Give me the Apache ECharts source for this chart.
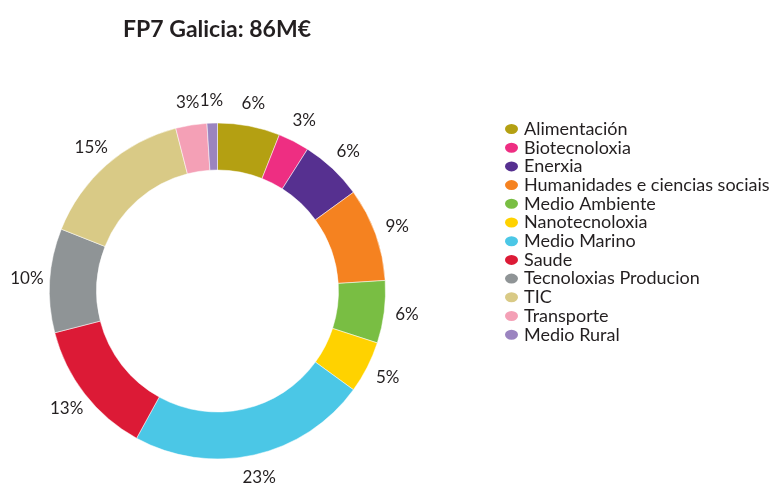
<!DOCTYPE html>
<html><head><meta charset="utf-8">
<script src="https://cdn.jsdelivr.net/npm/echarts@6/dist/echarts.min.js"></script>
<style>html,body{margin:0;padding:0;background:#fff}#c{width:772px;height:483px}</style>
</head><body><div id="c"></div>
<script>
var categories = ["Alimentación","Biotecnoloxia","Enerxia","Humanidades e ciencias sociais","Medio Ambiente","Nanotecnoloxia","Medio Marino","Saude","Tecnoloxias Producion","TIC","Transporte","Medio Rural"];
var values = [6,3,6,9,6,5,23,13,10,15,3,1];
var colors = ["#b4a012","#ee2e82","#563090","#f58220","#79be43","#ffd200","#4bc7e6","#dc1a36","#8f9496","#d9ca86","#f4a0b6","#9b84c0"];
var font = "Lato";
var chart = echarts.init(document.getElementById('c'));
var mainData = categories.map(function(n,i){return {name:n,value:values[i],itemStyle:{color:colors[i]}};});
var labelData = categories.map(function(n,i){return {name:n,value:values[i]};});
chart.setOption({
  animation:false,
  title:{text:"FP7 Galicia: 86M€",left:212,top:13,textAlign:'center',
    textStyle:{fontFamily:font,fontWeight:'bold',fontSize:23,color:'#231f20'}},
  legend:{orient:'vertical',left:498,top:115,itemWidth:15,itemHeight:12,itemGap:0.7,
    icon:'path://M0,6 A7.5,6 0 1,0 15,6 A7.5,6 0 1,0 0,6 Z',
    data:categories,selectedMode:false,
    textStyle:{fontFamily:font,fontSize:18,color:'#231f20'}},
  series:[
    {type:'pie',center:[217.5,291],radius:[121,168],startAngle:90,clockwise:true,silent:true,
     label:{show:false},labelLine:{show:false},
     itemStyle:{borderColor:'#fff',borderWidth:0.5},data:mainData},
    {type:'pie',center:[217.5,291],radius:[180,196],startAngle:90,clockwise:true,silent:true,
     itemStyle:{color:'transparent'},
     label:{show:true,position:'inside',formatter:'{d}%',fontFamily:font,fontSize:17,color:'#231f20'},
     labelLine:{show:false},data:labelData}
  ]
});
</script></body></html>
